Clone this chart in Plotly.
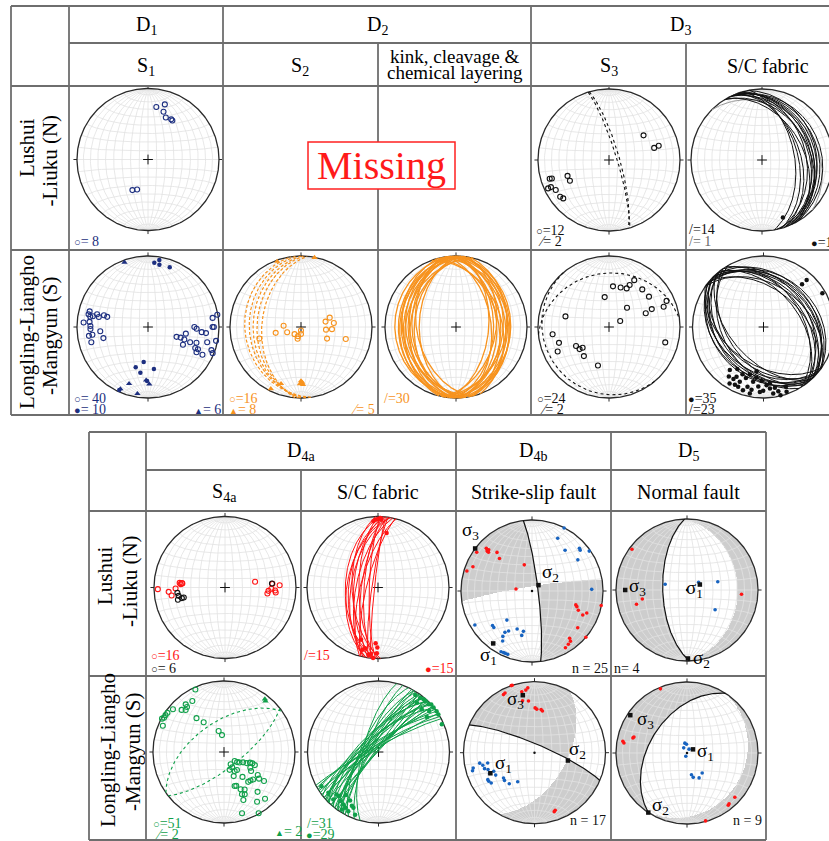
import numpy as np
import plotly.graph_objects as go

W, H = 829, 841
R = 71.0
FONT = "Liberation Serif"

NAVY = "#1d2f80"; ORANGE = "#f7931e"; RED = "#ff1414"; GREEN = "#10a04a"
BLUE = "#1763c0"; BLACK = "#111111"; GREY_PL = "#9a9a9a"
GRID = "#e2e2e2"; SHADE = "#cdcdcd"; LINE = "#6e6e6e"

# ---------------- data: (trend, plunge) for lines/poles, (dip direction, dip) for planes -------------
# Top table, Lushui-Liuku (N)
S1_N_POLES = [(9, 26), (17, 20), (18, 30), (23, 36), (30, 35), (32, 35.5), (207, 50), (200, 53)]
S3_N_POLES = [(54.5, 40), (75, 34.5), (74, 28), (252.5, 13.5), (252, 16.5), (245, 10.7), (245, 6),
              (240.6, 15), (233, 15), (230, 17), (249, 37.5), (242, 37.7)]
S3_N_PLANES = [(73, 81), (74, 78)]
SC3_N_PLANES = [(62, 18), (65, 22), (68, 26), (70, 29), (72, 32), (66, 35), (75, 38), (60, 41), (78, 24),
                (64, 30), (70, 45), (74, 48), (58, 34), (80, 52)]
SC3_N_PLANES_GREY = [(45, 25)]
SC3_N_LINEATION = [(160, 15)]

# Top table, Longling-Lianghe-Mangyun (S)
S1_S_POLES = [(274, 10), (285, 16), (282, 15.5), (280, 18.5), (281, 22), (284, 27), (281.5, 30), (285, 36),
              (284, 40.5), (275, 18.5), (271, 20), (268, 20), (262, 22), (261.5, 17), (265, 33), (256, 35.5),
              (255, 18.5), (82, 9), (80, 1), (90, 10), (90, 8), (90, 35), (92, 32), (95.5, 25), (96, 19),
              (100, 45), (109, 55), (108, 50), (109, 45), (110, 37), (108, 29), (117, 44), (114, 28),
              (114, 24), (117.5, 24), (117, 15), (104.5, 15), (110, 5.5), (112, 2), (101.5, 2.5)]
S1_S_FILLED = [(5.6, 10), (9.6, 5), (10.4, 12), (20, 11.5), (197, 40.5), (187, 49), (189.5, 35), (172, 40),
               (181, 25), (204.5, 3)]
S1_S_TRI = [(340, 3.5), (198.5, 17), (189, 5.5), (178.7, 20.5), (182, 26), (204, 5)]

S2_S_POLES = [(254.5, 39), (257, 60), (274, 70), (249, 73), (222, 79), (196, 76), (180, 86), (180, 82),
              (198, 79), (77.6, 61), (72, 55), (83, 51.5), (96, 61), (94, 54), (114, 57), (105, 35)]
S2_S_TRI = [(340, 2), (11, 0.5), (180, 25), (178.6, 23), (181, 21), (178, 20), (199.4, 16.5), (206, 3.5)]
S2_S_PLANES = [(262, 22), (266, 28), (270, 33), (272, 38), (275, 44)]

KINK_S_PLANES = [(265, 15), (272, 20), (268, 24), (276, 27), (262, 30), (270, 33), (280, 36), (266, 38),
                 (274, 41), (258, 44), (270, 47), (284, 30), (255, 26), (278, 22), (263, 35),
                 (85, 25), (92, 28), (80, 31), (96, 34), (88, 37), (75, 40), (100, 43), (90, 46),
                 (83, 49), (95, 52), (78, 27), (102, 30), (87, 42), (93, 24), (70, 36)]

S3_S_POLES = [(5.6, 42), (16.4, 41.5), (24.6, 40), (26.2, 34.5), (28.3, 26), (41.5, 30), (52.8, 30),
              (65.6, 12), (69.6, 19), (67.3, 35), (69.6, 44), (43, 59.5), (62, 75.5), (351.8, 55),
              (283.7, 37), (262.6, 21), (252.4, 27), (244.5, 21), (240.1, 45.5), (233.1, 47), (231.9, 51),
              (220.8, 45), (196, 43), (105.3, 19)]
S3_S_PLANES = [(354, 25), (230, 8)]

SC3_S_LINEATION = [(218, 24), (212, 31), (215, 16), (210, 16.5), (208.5, 21.5), (203.4, 17), (204, 28),
                   (199, 25), (196, 31), (190.7, 22.5), (188, 29), (195, 14), (190.8, 11), (185, 17),
                   (180.3, 11), (177, 19), (174, 14), (171.7, 6), (167, 8), (166, 1), (159.5, 11),
                   (160.4, 3.5), (211, 8), (206.3, 10), (198, 7), (191.6, 5), (183.2, 9), (173.6, 21),
                   (169.4, 14), (188.9, 37), (182, 25), (203, 9.5), (42.5, 11), (60.2, 5), (42, 20)]
SC3_S_PLANES = [(38, 30), (42, 34), (46, 38), (50, 42), (40, 46), (55, 36), (48, 28), (35, 40), (52, 48),
                (44, 32), (58, 44), (36, 26),
                (220, 32), (225, 36), (230, 40), (222, 44), (235, 48), (218, 38), (228, 52), (232, 34),
                (240, 42), (226, 30), (215, 46)]

# Bottom table, Lushui-Liuku (N)
S4_N_RED = [(268.6, 6), (265.6, 21.5), (261.5, 25), (268.8, 31), (275.8, 36), (276, 39), (274.3, 37.5),
            (275.3, 39.5), (79.3, 54.5), (98, 39.5), (94.4, 38.5), (91.6, 35), (93.4, 30), (95.6, 29),
            (87.6, 24), (85.6, 33.5)]
S4_N_BLACK = [(263.6, 33), (259.8, 34), (255.4, 32), (256.2, 37.5), (256.4, 40), (85.1, 34)]
SC4_N_PLANES = [(272, 52), (276, 56), (280, 59), (274, 62), (282, 65), (270, 68), (278, 71), (274, 74),
                (284, 77), (272, 80), (278, 83), (276, 86), (268, 60), (285, 70), (280, 54)]
SC4_N_LINEATION = [(356, 7), (358, 5), (0, 4), (2, 2.5), (3, 5), (9, 23.5), (198, 23.5), (194, 10.5),
                   (188, 4.5), (184, 0.5), (181, 8), (180.6, 16.5), (182.4, 22.5), (186, 7), (192, 13.5)]

SS_N_RED = [(305.1, 5.5), (313, 13), (311.6, 16.5), (311.7, 19), (313.6, 17), (317.8, 27.5), (315, 35.5),
            (292.3, 11), (287.1, 4.5), (343.6, 58.5), (277.1, 71.5), (107.6, 35.5), (109.2, 33.5),
            (112.6, 30), (115.3, 22), (111.9, 18), (101.8, 0.5), (128.8, 18.5), (130.7, 0), (141.5, 16),
            (142.5, 12), (145.7, 10), (149.5, 8)]
SS_N_BLUE = [(27, 0.5), (26, 18.5), (39.1, 27), (47.9, 11), (49.7, 12), (55.1, 2), (55.8, 23), (88.4, 17),
             (239.2, 7), (228.8, 27), (220.8, 45), (210.3, 35), (213.2, 31), (212.7, 25), (210.4, 19.5),
             (201.4, 42), (192, 41.5), (193, 36), (207, 4.5), (204.8, 5), (203.2, 5), (201, 5), (226.3, 26.5)]
SS_N_SIGMA = [(216.5, 9), (48, 80), (306.8, 0)]
SS_N_PLANES = [(83, 83), (351, 85)]     # first drawn, both bound the shaded quadrants

NF_N_RED = [(306.5, 4), (258.7, 36), (254.2, 27), (94.5, 24)]
NF_N_BLUE = [(284.7, 64), (56.2, 74), (74.9, 53), (125.1, 50)]
NF_N_SIGMA = [(67, 74), (179.2, 4), (270, 14)]
NF_N_PLANES = [(268, 62), (88, 29)]

# Bottom table, Longling-Lianghe-Mangyun (S)
S4_S_POLES = [(335.4, 3.5), (328.2, 16.5), (321.2, 15), (320.6, 19), (314.8, 17), (317.6, 21), (309.9, 7),
              (304.7, 3.5), (302.2, 3), (299.8, 3), (298.3, 1), (293.2, 7), (320.9, 38.5), (325.6, 48),
              (345.7, 65), (353.2, 70.5),
              (151.6, 74), (152, 70), (130.2, 74), (127.6, 71), (124.2, 68.5), (118.5, 65), (116.2, 61),
              (112.3, 57.5), (111.8, 54.5), (120.8, 54.5), (125.1, 51.5), (113, 51), (162.5, 68.5),
              (150.7, 65), (144.2, 64.5), (158.1, 60), (143.4, 54), (141, 45), (137.1, 44.5), (133.3, 43),
              (124.3, 42), (127.3, 38), (126, 31), (162.6, 48.5), (160.1, 48), (155.9, 42), (151.2, 39.5),
              (157, 35.5), (153.9, 34), (158, 28), (139.9, 27.5), (138.7, 13.5), (146.4, 17), (163.6, 11),
              (150.5, 1)]
S4_S_TRI = [(37.7, 6.5), (39.2, 8.5)]
S4_S_PLANES = [(325, 55), (142, 72)]
SC4_S_LINEATION = [(32.8, 5), (37.5, 4), (40.5, 2.5), (42.5, 2.5), (46.4, 3), (51.1, 0.5), (54.9, 0),
                   (66.4, 3), (54.1, 17), (48, 0), (37.8, 13), (57.9, 0.5), (45.4, 15.5), (51, 9),
                   (239, 7), (230.9, 10), (224.5, 17), (221.8, 18), (217, 25), (210.4, 22), (213.8, 12),
                   (210.9, 9.5), (206.3, 16.5), (207, 7), (212.6, 4.5), (223.6, 8.5), (204.2, 15),
                   (200.5, 6.5), (218, 13.5)]
SC4_S_PLANES = [(285, 72), (290, 76), (295, 70), (300, 82), (305, 75), (308, 80), (310, 70), (312, 88),
                (315, 78), (317, 74), (320, 84), (322, 72), (325, 80), (327, 86), (330, 82), (310, 76),
                (315, 68), (320, 84), (305, 86), (300, 72), (312, 89), (318, 74), (323, 82), (328, 78),
                (308, 88), (314, 70), (316, 85), (306, 78), (302, 74), (298, 80), (332, 84)]

SS_S_RED = [(341.7, 0), (331.9, 8), (333.7, 7), (348.2, 13.5), (354.1, 9), (347, 26), (353.4, 27.5),
            (0.8, 37), (3, 38.5), (10.8, 40), (8.7, 38.5), (161.5, 13.5), (160.2, 15), (352.1, 12),
            (340.9, 0)]
SS_S_BLUE = [(255.9, 12), (253.8, 10), (259.2, 22.5), (257.6, 33), (252.3, 27), (250, 31), (245.2, 31),
             (240, 37), (245.5, 37), (238, 25), (235, 26.5), (230.7, 43), (227.3, 42), (219, 43),
             (210.1, 51), (240, 25), (256.3, 26)]
SS_S_SIGMA = [(245, 32), (103.2, 50), (348.5, 18.5)]
SS_S_PLANES = [(23, 80), (120, 52)]

NF_S_RED = [(337.5, 2.5), (279, 11), (280.4, 9), (285.6, 22), (286.8, 23), (132.8, 9), (140.3, 8),
            (141.7, 7), (164.7, 1)]
NF_S_BLUE = [(347.6, 78.5), (356.6, 80), (28, 85), (200, 86), (168.4, 64.5), (165.7, 61), (154.1, 58),
             (142.9, 61), (327.4, 83)]
NF_S_SIGMA = [(58.6, 82), (213, 0), (303.7, 4.5)]
NF_S_PLANES = [(303, 46), (123, 18)]

# ---------------- equal-area lower-hemisphere projection helpers ----------------
def unit(trend, plunge):
    t = np.radians(trend); p = np.radians(plunge)
    return np.array([np.cos(p) * np.sin(t), np.cos(p) * np.cos(t), np.sin(p)])


def to_xy(trend, plunge):
    t = np.radians(np.asarray(trend, float)); p = np.radians(np.asarray(plunge, float))
    e = np.cos(p) * np.sin(t); n = np.cos(p) * np.cos(t); d = np.sin(p)
    k = 1.0 / np.sqrt(1.0 + d)
    return e * k, n * k


def pole(dipdir, dip):
    dd = np.radians(dipdir); dp = np.radians(dip)
    return np.array([-np.sin(dd) * np.sin(dp), -np.cos(dd) * np.sin(dp), np.cos(dp)])


def gc_path(dipdir, dip, n=151):
    dd = np.radians(dipdir); dp = np.radians(dip)
    s = np.array([np.sin(dd - np.pi / 2), np.cos(dd - np.pi / 2), 0.0])
    dv = np.array([np.sin(dd) * np.cos(dp), np.cos(dd) * np.cos(dp), np.sin(dp)])
    t = np.linspace(0, np.pi, n)
    v = np.outer(np.cos(t), s) + np.outer(np.sin(t), dv)
    k = 1.0 / np.sqrt(1.0 + v[:, 2])
    return v[:, 0] * k, v[:, 1] * k


def grid_paths():
    xs, ys = [], []
    t = np.linspace(0, np.pi, 91)
    for a in range(10, 180, 10):
        ar = np.radians(a)
        e = np.sin(t) * np.cos(ar); n = np.cos(t); d = np.sin(t) * np.sin(ar)
        k = 1 / np.sqrt(1 + d)
        xs += list(e * k) + [None]; ys += list(n * k) + [None]
    for phi in range(10, 180, 10):
        pr = np.radians(phi)
        n = np.cos(pr) * np.ones_like(t); e = np.sin(pr) * np.cos(t); d = np.sin(pr) * np.sin(t)
        k = 1 / np.sqrt(1 + d)
        xs += list(e * k) + [None]; ys += list(n * k) + [None]
    return xs, ys


GX, GY = grid_paths()
TH = np.linspace(0, 2 * np.pi, 361)

G = np.linspace(-1, 1, 301)
MX, MY = np.meshgrid(G, G)
RR = MX ** 2 + MY ** 2
VD = np.clip(1 - RR, -1, 1)
KK = np.sqrt(np.clip(1 + VD, 0, None))
VE, VN = MX * KK, MY * KK

fig = go.Figure()
_ax = [0]


def make_net(cell, center):
    _ax[0] += 1
    i = _ax[0]
    sx = '' if i == 1 else str(i)
    x0, y0, x1, y1 = cell
    cx, cy = center
    fig.update_layout(**{
        f'xaxis{sx}': dict(domain=[x0 / W, x1 / W], range=[(x0 - cx) / R, (x1 - cx) / R], visible=False,
                           fixedrange=True, anchor=f'y{sx}'),
        f'yaxis{sx}': dict(domain=[1 - y1 / H, 1 - y0 / H], range=[(cy - y1) / R, (cy - y0) / R],
                           visible=False, fixedrange=True, anchor=f'x{sx}'),
    })
    return (f'x{sx}', f'y{sx}')


def add_shade(ax, planes, sig3):
    n1 = pole(*planes[0]); n2 = pole(*planes[1]); t = unit(*sig3)
    prod = (VE * n1[0] + VN * n1[1] + VD * n1[2]) * (VE * n2[0] + VN * n2[1] + VD * n2[2])
    ref = np.dot(t, n1) * np.dot(t, n2)
    z = np.where((RR <= 1.0) & (np.sign(prod) == np.sign(ref)), 1.0, np.nan)
    fig.add_trace(go.Heatmap(x=G, y=G, z=z, colorscale=[[0, SHADE], [1, SHADE]], showscale=False,
                             zsmooth=False, hoverinfo='skip', xaxis=ax[0], yaxis=ax[1]))


def add_base(ax):
    fig.add_trace(go.Scatter(x=GX, y=GY, mode='lines', line=dict(color=GRID, width=0.8),
                             hoverinfo='skip', xaxis=ax[0], yaxis=ax[1]))
    fig.add_trace(go.Scatter(x=np.cos(TH), y=np.sin(TH), mode='lines', line=dict(color='#2a2a2a', width=1.3),
                             hoverinfo='skip', xaxis=ax[0], yaxis=ax[1]))
    fig.add_trace(go.Scatter(x=[0, 0, None, 1, 1.05, None, 0, 0, None, -1, -1.05],
                             y=[1, 1.05, None, 0, 0, None, -1, -1.05, None, 0, 0], mode='lines',
                             line=dict(color='#2a2a2a', width=1), hoverinfo='skip', xaxis=ax[0], yaxis=ax[1]))


def add_centre(ax):
    fig.add_trace(go.Scatter(x=[0], y=[0], mode='markers',
                             marker=dict(symbol='cross-thin', size=7, line=dict(color='#111', width=1)),
                             hoverinfo='skip', xaxis=ax[0], yaxis=ax[1]))


def add_pts(ax, pts, color, symbol='circle-open', size=5, lw=1.1):
    x, y = to_xy([p[0] for p in pts], [p[1] for p in pts])
    fig.add_trace(go.Scatter(x=x, y=y, mode='markers',
                             marker=dict(symbol=symbol, size=size, color=color, line=dict(color=color, width=lw)),
                             hoverinfo='skip', xaxis=ax[0], yaxis=ax[1]))


def add_planes(ax, planes, color, width=1.0, dash='solid'):
    xs, ys = [], []
    for dd, dp in planes:
        x, y = gc_path(dd, dp)
        xs += list(x) + [None]; ys += list(y) + [None]
    fig.add_trace(go.Scatter(x=xs, y=ys, mode='lines', line=dict(color=color, width=width, dash=dash),
                             hoverinfo='skip', xaxis=ax[0], yaxis=ax[1]))


# ---------------- top table nets ----------------
ax = make_net((70, 87, 222, 249), (148, 159.5)); add_base(ax); add_centre(ax)
add_pts(ax, S1_N_POLES, NAVY)

ax = make_net((532, 87, 685, 249), (609, 160)); add_base(ax); add_centre(ax)
add_planes(ax, S3_N_PLANES, BLACK, 1.1, 'dot'); add_pts(ax, S3_N_POLES, BLACK)

ax = make_net((687, 87, 829, 249), (762, 160)); add_base(ax); add_centre(ax)
add_planes(ax, SC3_N_PLANES_GREY, GREY_PL, 1.0); add_planes(ax, SC3_N_PLANES, BLACK, 1.0)
add_pts(ax, SC3_N_LINEATION, BLACK, 'circle', 4.5, 0)

ax = make_net((70, 251, 222, 414), (148, 327)); add_base(ax); add_centre(ax)
add_pts(ax, S1_S_POLES, NAVY); add_pts(ax, S1_S_FILLED, NAVY, 'circle', 4.5, 0)
add_pts(ax, S1_S_TRI, NAVY, 'triangle-up', 5.5, 0)

ax = make_net((224, 251, 377, 414), (301, 327)); add_base(ax); add_centre(ax)
add_planes(ax, S2_S_PLANES, ORANGE, 1.2, '3px,2px'); add_pts(ax, S2_S_POLES, ORANGE)
add_pts(ax, S2_S_TRI, ORANGE, 'triangle-up', 5.5, 0)

ax = make_net((379, 251, 530, 414), (456, 327)); add_base(ax); add_centre(ax)
add_planes(ax, KINK_S_PLANES, ORANGE, 1.3)

ax = make_net((532, 251, 685, 414), (609, 327)); add_base(ax); add_centre(ax)
add_planes(ax, S3_S_PLANES, BLACK, 1.1, 'dot'); add_pts(ax, S3_S_POLES, BLACK)

ax = make_net((687, 251, 829, 414), (763.5, 327)); add_base(ax); add_centre(ax)
add_planes(ax, SC3_S_PLANES, BLACK, 1.0); add_pts(ax, SC3_S_LINEATION, BLACK, 'circle', 4.5, 0)

# ---------------- bottom table nets ----------------
ax = make_net((147, 512, 300, 675), (225, 587.5)); add_base(ax); add_centre(ax)
add_pts(ax, S4_N_RED, RED); add_pts(ax, S4_N_BLACK, BLACK)

ax = make_net((302, 512, 455, 675), (378, 587.5)); add_base(ax); add_centre(ax)
add_planes(ax, SC4_N_PLANES, RED, 1.0); add_pts(ax, SC4_N_LINEATION, RED, 'circle', 4.5, 0)


def fault_net(cell, center, planes, sig, red, blue):
    a = make_net(cell, center)
    add_shade(a, planes, sig[2]); add_base(a)
    add_planes(a, [planes[0]], BLACK, 1.2)
    add_pts(a, red, RED, 'circle', 3.6, 0); add_pts(a, blue, BLUE, 'circle', 3.6, 0)
    fig.add_trace(go.Scatter(x=[0], y=[0], mode='markers', marker=dict(symbol='circle', size=2.5, color='#111'),
                             hoverinfo='skip', xaxis=a[0], yaxis=a[1]))
    add_pts(a, sig, BLACK, 'square', 4.5, 0)
    return a


fault_net((457, 512, 610, 675), (532, 591), SS_N_PLANES, SS_N_SIGMA, SS_N_RED, SS_N_BLUE)
fault_net((612, 512, 765, 675), (687, 590), NF_N_PLANES, NF_N_SIGMA, NF_N_RED, NF_N_BLUE)

ax = make_net((147, 677, 300, 839), (224, 752)); add_base(ax); add_centre(ax)
add_planes(ax, S4_S_PLANES, GREEN, 1.1, 'dot'); add_pts(ax, S4_S_POLES, GREEN)
add_pts(ax, S4_S_TRI, GREEN, 'triangle-up', 5.5, 0)

ax = make_net((302, 677, 455, 839), (378.5, 752)); add_base(ax); add_centre(ax)
add_planes(ax, SC4_S_PLANES, GREEN, 1.0); add_pts(ax, SC4_S_LINEATION, GREEN, 'circle', 4.5, 0)

fault_net((457, 677, 610, 839), (534.5, 752.7), SS_S_PLANES, SS_S_SIGMA, SS_S_RED, SS_S_BLUE)
fault_net((612, 677, 765, 839), (687, 753), NF_S_PLANES, NF_S_SIGMA, NF_S_RED, NF_S_BLUE)

# ---------------- table lines ----------------
SH = []


def hline(y, x0, x1):
    SH.append(dict(type='line', xref='paper', yref='paper', x0=x0 / W, x1=x1 / W, y0=1 - y / H, y1=1 - y / H,
                   line=dict(color=LINE, width=1.8)))


def vline(x, y0, y1):
    SH.append(dict(type='line', xref='paper', yref='paper', x0=x / W, x1=x / W, y0=1 - y0 / H, y1=1 - y1 / H,
                   line=dict(color=LINE, width=1.8)))


hline(6, 11, 829); hline(43, 69, 829); hline(86, 11, 829); hline(250, 11, 829); hline(415, 11, 829)
vline(11, 6, 415); vline(69, 6, 415); vline(223, 6, 415); vline(378, 43, 415); vline(531, 6, 415)
vline(686, 43, 415)
hline(432, 89, 766); hline(470, 146, 766); hline(511, 89, 766); hline(676, 89, 766); hline(840, 89, 766)
vline(89, 432, 840); vline(146, 432, 840); vline(301, 470, 840); vline(456, 432, 840); vline(611, 432, 840)
vline(766, 432, 840)
SH.append(dict(type='rect', xref='paper', yref='paper', x0=308 / W, x1=455 / W, y0=1 - 189 / H, y1=1 - 142 / H,
               fillcolor='white', line=dict(color='#ff2020', width=1.5)))

# ---------------- texts ----------------
ANN = []


def text(s, px, py, size=20, color='black', xanchor='center', angle=0):
    ANN.append(dict(text=s, x=px / W, y=1 - py / H, xref='paper', yref='paper', showarrow=False,
                    font=dict(family=FONT, size=size, color=color), xanchor=xanchor, yanchor='middle',
                    textangle=angle, borderpad=0))


text('D<sub>1</sub>', 146, 26); text('D<sub>2</sub>', 377, 26); text('D<sub>3</sub>', 680, 26)
text('S<sub>1</sub>', 146, 66); text('S<sub>2</sub>', 300, 66); text('S<sub>3</sub>', 609, 66)
text('kink, cleavage &amp;', 455, 57, 19); text('chemical layering', 455, 72, 19)
text('S/C fabric', 768, 66)
text('Lushui', 27, 148, 21, angle=-90); text('-Liuku (N)', 50, 160.5, 21, angle=-90)
text('Longling-Liangho', 27, 332, 21, angle=-90); text('-Mangyun (S)', 50, 336, 21, angle=-90)
text('Missing', 381.5, 166, 40, '#ff1a1a')

text('D<sub>4a</sub>', 301, 452); text('D<sub>4b</sub>', 533, 452); text('D<sub>5</sub>', 688, 452)
text('S<sub>4a</sub>', 224, 492); text('S/C fabric', 378, 492); text('Strike-slip fault', 533, 492)
text('Normal fault', 688, 492)
text('Lushui', 105, 576, 21, angle=-90); text('-Liuku (N)', 130, 581, 21, angle=-90)
text('Longling-Liangho', 108, 750, 21, angle=-90); text('-Mangyun (S)', 133, 752, 21, angle=-90)

OC = '<span style="font-size:11px">○</span>'
FC = '<span style="font-size:11px">●</span>'
TR = '<span style="font-size:9px">▲</span>'
LS = 14
text(OC + '= 8', 73, 241, LS, NAVY, 'left')
text(OC + '=12', 535, 230, LS, BLACK, 'left'); text('⁄= 2', 537, 241, LS, BLACK, 'left')
text('/=14', 688, 229, LS, BLACK, 'left'); text('/= 1', 688, 241, LS, '#666', 'left')
text(FC + '=1', 810, 242, LS, BLACK, 'left')
text(OC + '= 40', 73, 398, LS, NAVY, 'left'); text(FC + '= 10', 73, 409.5, LS, NAVY, 'left')
text(TR + '= 6', 193, 409.5, LS, NAVY, 'left')
text(OC + '=16', 228, 398, LS, ORANGE, 'left'); text(TR + '= 8', 228, 409.5, LS, ORANGE, 'left')
text('⁄= 5', 350, 409.5, LS, ORANGE, 'left')
text('/=30', 383, 398, LS, ORANGE, 'left')
text(OC + '=24', 536, 398, LS, BLACK, 'left'); text('⁄= 2', 539, 409.5, LS, BLACK, 'left')
text(FC + '=35', 687, 398, LS, BLACK, 'left'); text('/=23', 688, 409.5, LS, BLACK, 'left')

text(OC + '=16', 150, 655, LS, RED, 'left'); text(OC + '= 6', 150, 668, LS, BLACK, 'left')
text('/=15', 303, 655, LS, RED, 'left'); text(FC + '=15', 424, 668, LS, RED, 'left')
text('n = 25', 609, 668, LS, BLACK, 'right'); text('n= 4', 613, 668, LS, BLACK, 'left')
text(OC + '=51', 152, 823, LS, GREEN, 'left'); text('⁄= 2', 154, 834, LS, GREEN, 'left')
text(TR + '= 2', 274, 831, LS, GREEN, 'left')
text('/=31', 306, 823, LS, GREEN, 'left'); text(FC + '=29', 305, 834, LS, GREEN, 'left')
text('n = 17', 607, 820, LS, BLACK, 'right'); text('n = 9', 763, 820, LS, BLACK, 'right')

SIG = 19
text('σ<sub>3</sub>', 470, 531, SIG); text('σ<sub>2</sub>', 550, 573, SIG); text('σ<sub>1</sub>', 488, 656, SIG)
text('σ<sub>3</sub>', 637, 587, SIG); text('σ<sub>1</sub>', 694, 589, SIG); text('σ<sub>2</sub>', 701, 659, SIG)
text('σ<sub>3</sub>', 515, 700, SIG); text('σ<sub>2</sub>', 577, 750, SIG); text('σ<sub>1</sub>', 503, 764, SIG)
text('σ<sub>3</sub>', 645, 720, SIG); text('σ<sub>1</sub>', 705, 752, SIG); text('σ<sub>2</sub>', 660, 806, SIG)

fig.update_layout(width=W, height=H, margin=dict(l=0, r=0, t=0, b=0), paper_bgcolor='white',
                  plot_bgcolor='rgba(0,0,0,0)', showlegend=False, shapes=SH, annotations=ANN)
fig.write_html("out.html", config={'displayModeBar': False, 'staticPlot': True},
               post_script="document.body.style.margin='0px';document.body.style.padding='0px';")
